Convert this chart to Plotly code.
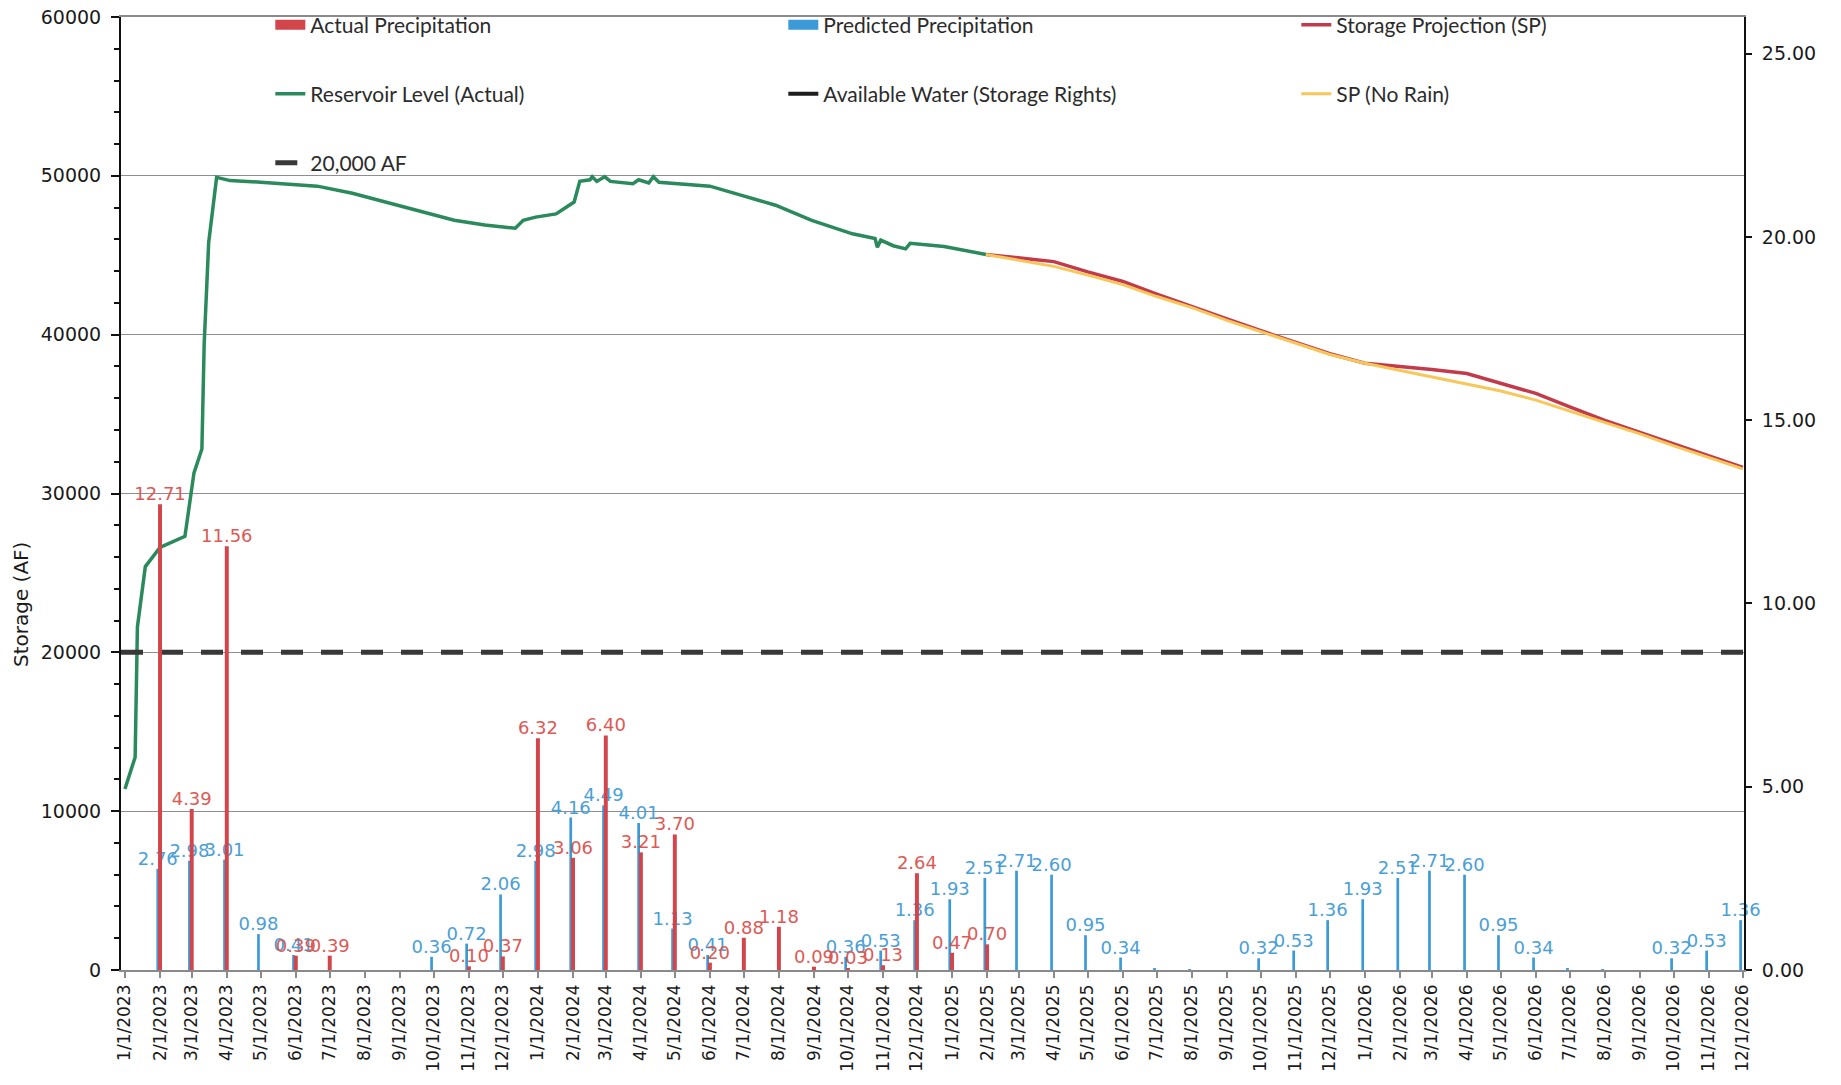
import plotly.graph_objects as go

# ---------------- data ----------------
months = [f"{y}-{m:02d}-01" for y in (2023, 2024, 2025, 2026) for m in range(1, 13)]

actual_precip_in = [
    None, 12.71, 4.39, 11.56, None, 0.39, 0.39, None, None, None, 0.10, 0.37,
    6.32, 3.06, 6.40, 3.21, 3.70, 0.20, 0.88, 1.18, 0.09, 0.03, 0.13, 2.64,
    0.47, 0.70, None, None, None, None, None, None, None, None, None, None,
    None, None, None, None, None, None, None, None, None, None, None, None,
]
predicted_precip_in = [
    None, 2.76, 2.98, 3.01, 0.98, 0.41, None, None, None, 0.36, 0.72, 2.06,
    2.98, 4.16, 4.49, 4.01, 1.13, 0.41, None, None, None, 0.36, 0.53, 1.36,
    1.93, 2.51, 2.71, 2.60, 0.95, 0.34, 0.05, 0.02, None, 0.32, 0.53, 1.36,
    1.93, 2.51, 2.71, 2.60, 0.95, 0.34, 0.05, 0.02, None, 0.32, 0.53, 1.36,
]

reservoir_dates = [
    "2023-01-01", "2023-01-10", "2023-01-12", "2023-01-19", "2023-02-01", "2023-02-23",
    "2023-03-03", "2023-03-10", "2023-03-12", "2023-03-16", "2023-03-23", "2023-04-04",
    "2023-05-01", "2023-06-06", "2023-06-20", "2023-07-21", "2023-09-04", "2023-10-19",
    "2023-11-15", "2023-12-12", "2023-12-19", "2023-12-30", "2024-01-17", "2024-01-26",
    "2024-02-02", "2024-02-07", "2024-02-16", "2024-02-18", "2024-02-22", "2024-02-29",
    "2024-03-05", "2024-03-25", "2024-03-30", "2024-04-08", "2024-04-12", "2024-04-17",
    "2024-06-01", "2024-06-23", "2024-07-29", "2024-08-30", "2024-10-05", "2024-10-25",
    "2024-10-27", "2024-10-30", "2024-11-10", "2024-11-21", "2024-11-25", "2024-12-25",
    "2025-01-26", "2025-01-31",
]
reservoir_af = [
    11400, 13400, 21600, 25400, 26600, 27300,
    31300, 32800, 39400, 45800, 49900, 49700,
    49600, 49450, 49350, 48900, 48050, 47200,
    46900, 46700, 47200, 47400, 47600, 48050,
    48350, 49650, 49750, 49950, 49650, 49950,
    49650, 49500, 49750, 49550, 49950, 49600,
    49350, 48900, 48150, 47200, 46350, 46050,
    45500, 45950, 45600, 45400, 45750, 45550,
    45150, 45050,
]

proj_dates = [
    "2025-01-31", "2025-03-01", "2025-04-01", "2025-05-01", "2025-06-01", "2025-07-01",
    "2025-08-01", "2025-09-01", "2025-10-01", "2025-11-01", "2025-12-01", "2026-01-01",
    "2026-02-01", "2026-03-01", "2026-04-01", "2026-05-01", "2026-06-01", "2026-07-01",
    "2026-08-01", "2026-09-01", "2026-10-01", "2026-11-01", "2026-12-01",
]
storage_projection_af = [
    45050, 44850, 44600, 43950, 43350, 42550,
    41800, 41000, 40250, 39500, 38800, 38200,
    38000, 37800, 37550, 36950, 36300, 35450,
    34600, 33850, 33120, 32380, 31650,
]
sp_no_rain_af = [
    45050, 44700, 44300, 43750, 43150, 42400,
    41700, 40900, 40200, 39450, 38750, 38200,
    37750, 37350, 36920, 36450, 35880, 35200,
    34450, 33750, 33000, 32270, 31550,
]

threshold_dates = ["2022-12-28 12:00", "2026-12-02"]
threshold_af = [20000, 20000]
available_water_af = [None, None]
legend_swatch = [None, None]   # legend-only entries (no data drawn)

DAY = 86400000

RED_BAR = "#d2454b"
BLUE_BAR = "#3d9ad8"
RED_TXT = "#dc5a56"
BLUE_TXT = "#4a9fd6"
GREEN = "#2a8a5c"
SP_RED = "#c33b4a"
SP_YEL = "#f7c75a"

fig = go.Figure()

# legend swatches for the precipitation bars (wide rectangles as in the original)
fig.add_trace(go.Scatter(
    x=threshold_dates, y=legend_swatch, mode="lines", name="Actual Precipitation",
    line=dict(color=RED_BAR, width=14), legend="legend", legendrank=1))
fig.add_trace(go.Scatter(
    x=threshold_dates, y=legend_swatch, mode="lines", name="Predicted Precipitation",
    line=dict(color=BLUE_BAR, width=14), legend="legend", legendrank=2))

fig.add_trace(go.Scatter(
    x=reservoir_dates, y=reservoir_af, mode="lines", name="Reservoir Level (Actual)",
    line=dict(color=GREEN, width=3.5), legend="legend2", legendrank=1))
fig.add_trace(go.Scatter(
    x=proj_dates, y=storage_projection_af, mode="lines", name="Storage Projection (SP)",
    line=dict(color=SP_RED, width=3.5), legend="legend", legendrank=3))
fig.add_trace(go.Scatter(
    x=proj_dates, y=sp_no_rain_af, mode="lines", name="SP (No Rain)",
    line=dict(color=SP_YEL, width=3), legend="legend2", legendrank=3))
fig.add_trace(go.Scatter(
    x=threshold_dates, y=available_water_af, mode="lines", name="Available Water (Storage Rights)",
    line=dict(color="#1e1e1e", width=4), legend="legend2", legendrank=2))
fig.add_trace(go.Scatter(
    x=threshold_dates, y=threshold_af, mode="lines", name="20,000 AF",
    line=dict(color="#383838", width=5, dash="22px,18px"), legend="legend3"))

pred_text = [f"{v:.2f}" if (v is not None and v >= 0.1) else "" for v in predicted_precip_in]
act_text = [f"{v:.2f}" if v is not None else "" for v in actual_precip_in]

fig.add_trace(go.Bar(
    x=months, y=predicted_precip_in, yaxis="y2", name="Predicted Precipitation",
    marker=dict(color=BLUE_BAR, line=dict(width=0)),
    width=2.4 * DAY, offset=-3.2 * DAY,
    text=pred_text, textposition="outside", constraintext="none", cliponaxis=False,
    textfont=dict(family="DejaVu Sans", size=18, color=BLUE_TXT),
    showlegend=False))
fig.add_trace(go.Bar(
    x=months, y=actual_precip_in, yaxis="y2", name="Actual Precipitation",
    marker=dict(color=RED_BAR, line=dict(width=0)),
    width=3.5 * DAY, offset=-1.75 * DAY,
    text=act_text, textposition="outside", constraintext="none", cliponaxis=False,
    textfont=dict(family="DejaVu Sans", size=18, color=RED_TXT),
    showlegend=False))

x_font = dict(family="DejaVu Sans", size=17, color="#1a1a1a")
y_font = dict(family="DejaVu Sans", size=19, color="#1a1a1a")
leg_font = dict(family="Lato", size=21, color="#2b2b2b")

def leg(y):
    return dict(x=0.092, y=y, xanchor="left", yanchor="middle",
                orientation="h", entrywidth=468, entrywidthmode="pixels", font=leg_font,
                bgcolor="rgba(0,0,0,0)", traceorder="normal")

fig.update_layout(
    width=1841, height=1085,
    margin=dict(l=121, r=97, t=17, b=115, autoexpand=False),
    paper_bgcolor="white", plot_bgcolor="white",
    barmode="overlay",
    showlegend=True,
    legend=leg(0.9916), legend2=leg(0.9192), legend3=leg(0.8468),
    xaxis=dict(
        type="date", range=["2022-12-28 12:00", "2026-12-02"],
        tick0="2023-01-01", dtick="M1", tickformat="%-m/%-d/%Y", tickangle=-90,
        ticks="outside", ticklen=6, tickcolor="#8a8a8a", tickwidth=1.5,
        showline=True, linecolor="#8a8a8a", linewidth=1.5, mirror=True, showgrid=False,
        tickfont=x_font, automargin=False,
    ),
    yaxis=dict(
        range=[0, 60000], dtick=10000, tickformat="d",
        showgrid=True, gridcolor="#8e8e8e", gridwidth=1.3, zeroline=False,
        showline=True, linecolor="#111111", linewidth=2,
        ticks="outside", ticklen=8, tickwidth=2, tickcolor="#111111",
        minor=dict(dtick=2000, ticks="outside", ticklen=5, tickwidth=1.5,
                   tickcolor="#111111", showgrid=False),
        tickfont=y_font, ticklabelstandoff=6, automargin=False,
    ),
    yaxis2=dict(
        overlaying="y", side="right", range=[0, 26], dtick=5, tickformat=".2f",
        showgrid=False, zeroline=False,
        showline=True, linecolor="#111111", linewidth=2,
        ticks="outside", ticklen=6, tickwidth=2, tickcolor="#111111",
        tickfont=y_font, ticklabelstandoff=6, automargin=False,
    ),
    annotations=[dict(
        text="Storage (AF)", textangle=-90, xref="paper", yref="paper",
        x=-0.0616, y=0.383, xanchor="center", yanchor="middle", showarrow=False,
        font=dict(family="DejaVu Sans", size=20, color="#1a1a1a"))],
)

fig.write_html("out.html", config={"displayModeBar": False},
               post_script="document.body.style.margin='0';document.body.style.padding='0';")
